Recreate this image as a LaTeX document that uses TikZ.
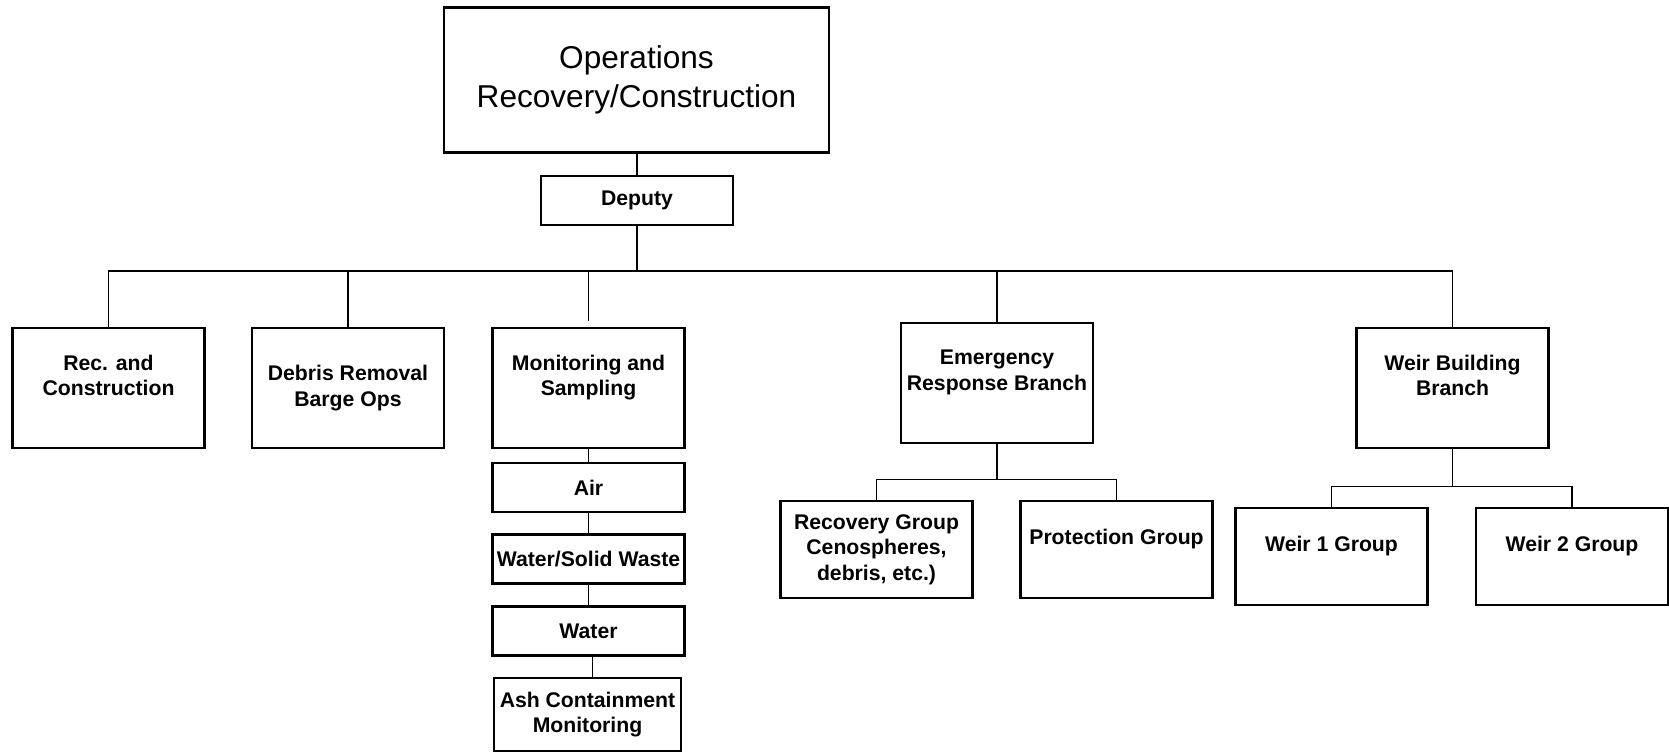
\documentclass[tikz,border=0pt]{standalone}
\usepackage{fontspec}
\setmainfont{Liberation Sans}

\begin{document}
\begin{tikzpicture}[x=0.5pt,y=-0.5pt,
	box/.style={draw,line width=1.2pt,align=center,inner sep=0pt,font=\bfseries\fontsize{10.6}{12.8}\selectfont},
	unit/.style={box,minimum width=96pt,minimum height=60pt},
	sub/.style={box,minimum width=96pt,minimum height=24.5pt},
	group/.style={box,minimum width=96pt,minimum height=48.5pt},
	link/.style={line width=0.6pt}]

		\useasboundingbox (0,0) rectangle (1669,752);

		% Head of operations and deputy
		\node[box,minimum width=192.5pt,minimum height=72.5pt,font=\fontsize{15.8}{19.7}\selectfont] (ops) at (636.5,80) {Operations\\Recovery/Construction};
		\node[sub] (dep) at (637,200.5) {Deputy};
		\draw[link] (ops.south) -- (dep.south |- ops.south) -- (dep.north);

		% Units under the deputy
		\node[unit] (rec) at (108.5,388) {Rec. and\\Construction\\\mbox{}};
		\node[unit] (deb) at (348,388) {Debris Removal\\Barge Ops};
		\node[unit] (mon) at (588.5,388) {Monitoring and\\Sampling\\\mbox{}};
		\node[unit] (erb) at (997,383) {Emergency\\Response Branch\\\mbox{}};
		\node[unit] (weir) at (1452.5,388) {Weir Building\\Branch\\\mbox{}};

		% Bus line from the deputy
		\coordinate (bus) at (637,271);
		\draw[link] (dep.south) -- (bus);
		\draw[link] (rec.north) |- (bus) -| (weir.north);
		\draw[link] (deb.north) -- (deb.north |- bus);
		\draw[link,shorten <=3pt] (mon.north) -- (mon.north |- bus);
		\draw[link] (erb.north) -- (erb.north |- bus);

		% Monitoring and sampling column
		\node[sub] (air) at (588.5,487.5) {Air};
		\node[sub] (wsw) at (588.5,559) {Water/Solid Waste};
		\node[sub] (wat) at (588.5,631) {Water};
		\node[box,minimum width=93.5pt,minimum height=36.5pt] (ash) at (587.5,714.5) {Ash Containment\\Monitoring};
		\draw[link] (mon.south) -- (air.north);
		\draw[link] (air.south) -- (wsw.north);
		\draw[link] (wsw.south) -- (wat.north);
		\draw[link] ([xshift=1.8pt]wat.south) -- ([xshift=1.8pt]wat.south |- ash.north);

		% Emergency response groups
		\node[group] (recg) at (876.5,549.5) {Recovery Group\\Cenospheres,\\debris, etc.)};
		\node[group] (prot) at (1116.5,549.5) {Protection Group\\\mbox{}};
		\draw[link] (erb.south) -- ++(0,35) coordinate (ebus);
		\draw[link] (recg.north) |- (ebus) -| (prot.north);

		% Weir groups
		\node[group] (wone) at (1331.5,556.5) {Weir 1 Group\\\mbox{}};
		\node[group] (wtwo) at (1572,556.5) {Weir 2 Group\\\mbox{}};
		\draw[link] (weir.south) -- ++(0,37) coordinate (wbus);
		\draw[link] (wone.north) |- (wbus) -| (wtwo.north);

	\end{tikzpicture}
\end{document}
